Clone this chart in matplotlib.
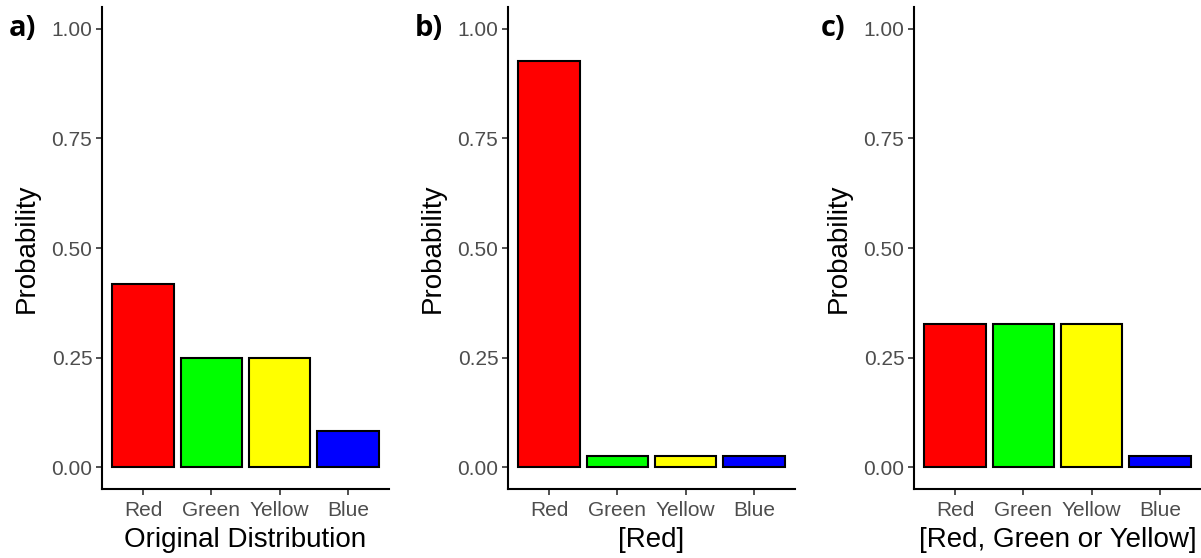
import matplotlib.pyplot as plt
import numpy as np

colours = ["Red", "Green", "Yellow", "Blue"]
bar_colours = ["#FF0000", "#00FF00", "#FFFF00", "#0000FF"]
orig_probs = [0.417, 0.25, 0.25, 0.083]
red_probs = [0.926, 0.025, 0.025, 0.025]
rgy_probs = [0.326, 0.326, 0.326, 0.025]
y_ticks = [0.0, 0.25, 0.5, 0.75, 1.0]

panels = [
    ("a)", orig_probs, "Original Distribution"),
    ("b)", red_probs, "[Red]"),
    ("c)", rgy_probs, "[Red, Green or Yellow]"),
]

plt.rcParams['font.family'] = ['Liberation Sans', 'DejaVu Sans']

fig = plt.figure(figsize=(12.01, 5.58), dpi=100)
lefts = [102, 508, 914]
for (tag, probs, xlabel), left in zip(panels, lefts):
    ax = fig.add_axes([left / 1201, 69 / 558, 287 / 1201, 482 / 558])
    x = np.arange(1, len(colours) + 1)
    ax.bar(x, probs, width=0.9, color=bar_colours, edgecolor="black", linewidth=1.5)
    ax.set_xlim(0.4, 4.6)
    ax.set_ylim(-0.05, 1.05)
    ax.set_xticks(x)
    ax.set_xticklabels(colours)
    ax.set_yticks(y_ticks)
    ax.set_yticklabels([f"{v:.2f}" for v in y_ticks])
    ax.tick_params(colors="#333333", labelcolor="#4D4D4D", labelsize=15,
                   length=4, width=1.2, pad=3)
    ax.tick_params(axis="x", pad=5)
    for s in ["top", "right"]:
        ax.spines[s].set_visible(False)
    for s in ["left", "bottom"]:
        ax.spines[s].set_linewidth(1.5)
        ax.spines[s].set_color("black")
    ax.set_ylabel("Probability", fontsize=20, labelpad=8.5)
    ax.set_xlabel(xlabel, fontsize=20, labelpad=5)
    fig.text((left - 93) / 1201, 1 - 29 / 558, tag, fontsize=21,
             fontweight="bold", va="center", ha="left",
             family=['Open Sans', 'DejaVu Sans'])

fig.savefig("out.png", dpi=100)
